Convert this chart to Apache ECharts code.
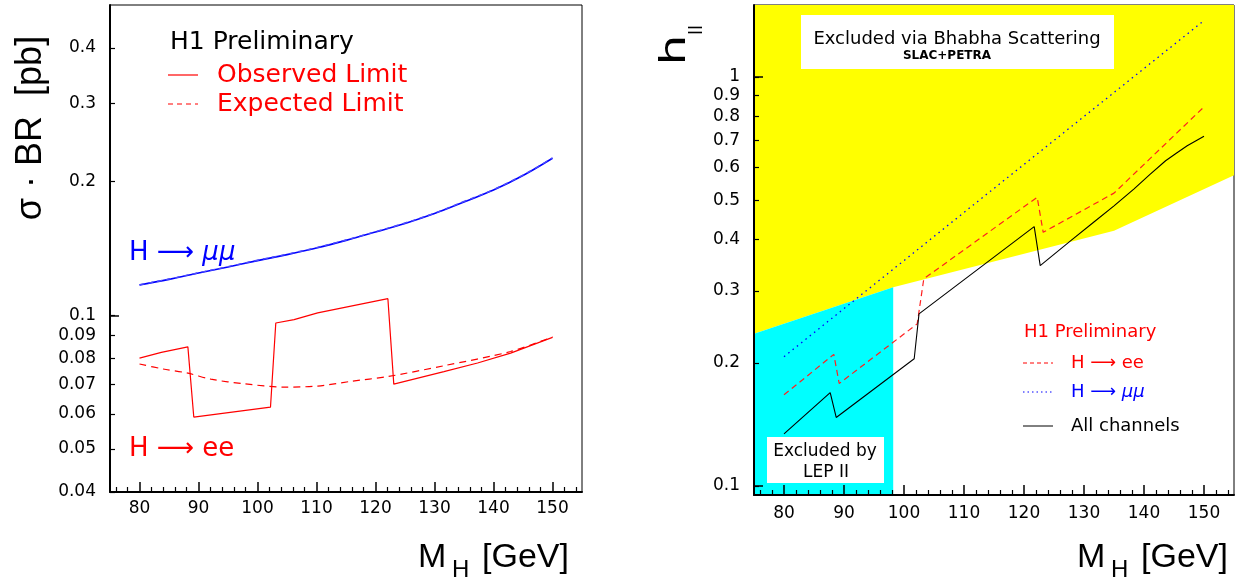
<!DOCTYPE html>
<html>
<head>
<meta charset="utf-8">
<script src="https://cdn.jsdelivr.net/npm/echarts@6/dist/echarts.min.js"></script>
<style>html,body{margin:0;padding:0;background:#fff;}#c{width:1239px;height:587px;}</style>
</head>
<body>
<div id="c"></div>
<script>
// ---------- Data ----------
// Left panel: sigma*BR limits [pb]
const muX      = [80, 85, 90, 95, 100, 105, 110, 115, 120, 125, 130, 135, 140, 145, 150];
const muObs    = [0.117, 0.1205, 0.1245, 0.1285, 0.1328, 0.137, 0.1418, 0.1475, 0.154, 0.161, 0.1695, 0.180, 0.1915, 0.2065, 0.2258];
const muExp    = [0.1172, 0.1207, 0.1247, 0.1287, 0.1331, 0.1373, 0.1421, 0.1478, 0.1543, 0.1614, 0.1699, 0.1805, 0.192, 0.207, 0.2262];
const eeObsX   = [80, 83.7, 88.2, 89.2, 102.2, 103.1, 106.2, 110.2, 122.1, 123.1, 131.6, 137.3, 142.9, 150];
const eeObsY   = [0.0801, 0.0825, 0.0849, 0.059, 0.0621, 0.0961, 0.0978, 0.1013, 0.109, 0.070, 0.0747, 0.0781, 0.0822, 0.0892];
const eeExpX   = [80, 84, 88.2, 92.1, 97.8, 104.5, 110.2, 115.8, 122.1, 131.6, 142.9, 150];
const eeExpY   = [0.0777, 0.0757, 0.0741, 0.0718, 0.0701, 0.0689, 0.0693, 0.0710, 0.0728, 0.0770, 0.0829, 0.0894];

// Right panel: coupling limits h_ll
const hEeX     = [80, 88.3, 89.2, 102.2, 103.3, 122.2, 123.2, 135, 150];
const hEeY     = [0.167, 0.2097, 0.178, 0.249, 0.321, 0.508, 0.417, 0.52, 0.845];
const hMuX     = [80, 115, 150];
const hMuY     = [0.207, 0.534, 1.374];
const hAllX    = [80, 87.7, 88.7, 101.7, 102.5, 121.7, 122.7, 127.8, 131.5, 135, 138.3, 141, 143.6, 145.5, 147.2, 150];
const hAllY    = [0.134, 0.169, 0.147, 0.2046, 0.2635, 0.4305, 0.3457, 0.398, 0.44, 0.484, 0.532, 0.578, 0.624, 0.653, 0.679, 0.716];
const bhabhaX  = [75, 98.2, 135, 155];
const bhabhaY  = [0.2355, 0.306, 0.421, 0.575];
const lepX     = [75, 98.2];
const lepY     = [0.2355, 0.306];

// Axes / ticks
const xMajor   = [80, 90, 100, 110, 120, 130, 140, 150];
const xMinor   = [76, 78, 82, 84, 86, 88, 92, 94, 96, 98, 102, 104, 106, 108, 112, 114, 116, 118, 122, 124, 126, 128, 132, 134, 136, 138, 142, 144, 146, 148, 152, 154];
const yLeftTicks  = [0.04, 0.05, 0.06, 0.07, 0.08, 0.09, 0.1, 0.2, 0.3, 0.4];
const yLeftMajor  = [0.1];
const yRightTicks = [0.1, 0.2, 0.3, 0.4, 0.5, 0.6, 0.7, 0.8, 0.9, 1];
const yRightMajor = [0.1, 1];
const xRange = [75, 155];
const yLeftRange  = [0.04, 0.5];
const yRightRange = [0.095, 1.5];

// ---------- Build ----------
const lg = Math.log10;
const pairs = (xs, ys) => xs.map((x, i) => [x, lg(ys[i])]);
const FONT = 'DejaVu Sans';
const fmt = v => String(parseFloat(Math.pow(10, v).toPrecision(2)));

function tickOnlyAxis(g, pos, mn, mx, vals, len, w) {
  return { type: 'value', gridIndex: g, position: pos, min: mn, max: mx, z: 10,
    axisLine: { show: false, onZero: false },
    axisTick: { show: true, inside: true, length: len, customValues: vals, lineStyle: { color: '#000', width: w } },
    axisLabel: { show: false }, splitLine: { show: false } };
}
function xAxes(g) {
  return [
    { type: 'value', gridIndex: g, position: 'bottom', min: xRange[0], max: xRange[1], z: 10,
      axisLine: { show: true, onZero: false, lineStyle: { color: '#000', width: 2 } },
      axisTick: { show: false },
      axisLabel: { customValues: xMajor, margin: g === 0 ? 8 : 10, fontSize: 17, color: '#000', fontFamily: FONT },
      splitLine: { show: false } },
    tickOnlyAxis(g, 'bottom', xRange[0], xRange[1], xMajor, 10, 1.5),
    tickOnlyAxis(g, 'bottom', xRange[0], xRange[1], xMinor, 5, 1.2)
  ];
}
function yAxes(g, range, ticks, major) {
  const mn = lg(range[0]), mx = lg(range[1]);
  return [
    { type: 'value', gridIndex: g, position: 'left', min: mn, max: mx, z: 10,
      axisLine: { show: true, onZero: false, lineStyle: { color: '#000', width: 2 } },
      axisTick: { show: false },
      axisLabel: { customValues: ticks.map(lg), formatter: fmt, margin: 14, fontSize: 17, color: '#000', fontFamily: FONT },
      splitLine: { show: false } },
    tickOnlyAxis(g, 'left', mn, mx, ticks.map(lg), 5, 1.2),
    tickOnlyAxis(g, 'left', mn, mx, major.map(lg), 9, 1.5)
  ];
}

const base = { type: 'line', showSymbol: false, symbol: 'none', animation: false, silent: true };
// axis indices: grid0 -> x 0..2, y 0..2 ; grid1 -> x 3..5, y 3..5
const L = { xAxisIndex: 0, yAxisIndex: 0 };
const R = { xAxisIndex: 3, yAxisIndex: 3 };

const option = {
  animation: false,
  backgroundColor: '#fff',
  grid: [
    { left: 110, top: 5, width: 472, height: 487, show: true, borderColor: '#000', borderWidth: 1, backgroundColor: 'transparent' },
    { left: 754, top: 5, width: 480, height: 490, show: true, borderColor: '#000', borderWidth: 1, backgroundColor: 'transparent' }
  ],
  xAxis: [...xAxes(0), ...xAxes(1)],
  yAxis: [...yAxes(0, yLeftRange, yLeftTicks, yLeftMajor), ...yAxes(1, yRightRange, yRightTicks, yRightMajor)],
  series: [
    // left panel
    Object.assign({}, base, L, { name: 'H→μμ observed', smooth: 0.4, data: pairs(muX, muObs), lineStyle: { color: '#0000ff', width: 1.6 } }),
    Object.assign({}, base, L, { name: 'H→μμ expected', smooth: 0.4, data: pairs(muX, muExp), lineStyle: { color: '#4a4aff', width: 1.4, type: [5, 4] } }),
    Object.assign({}, base, L, { name: 'Observed Limit', data: pairs(eeObsX, eeObsY), lineStyle: { color: '#ff0000', width: 1.2 } }),
    Object.assign({}, base, L, { name: 'Expected Limit', smooth: 0.3, data: pairs(eeExpX, eeExpY), lineStyle: { color: '#ff0000', width: 1.2, type: [7, 5] } }),
    // right panel regions
    Object.assign({}, base, R, { name: 'Excluded via Bhabha Scattering', z: 1, data: pairs(bhabhaX, bhabhaY), lineStyle: { width: 0 }, areaStyle: { color: '#ffff00', opacity: 1, origin: 'end' } }),
    Object.assign({}, base, R, { name: 'Excluded by LEP II', z: 1, data: pairs(lepX, lepY), lineStyle: { width: 0 }, areaStyle: { color: '#00ffff', opacity: 1, origin: 'start' } }),
    // right panel limits
    Object.assign({}, base, R, { name: 'H→μμ', z: 3, data: pairs(hMuX, hMuY), lineStyle: { color: '#0000ff', width: 1.3, type: [1.5, 4] } }),
    Object.assign({}, base, R, { name: 'H→ee', z: 3, data: pairs(hEeX, hEeY), lineStyle: { color: '#ff2020', width: 1.2, type: [6, 4] } }),
    Object.assign({}, base, R, { name: 'All channels', z: 3, data: pairs(hAllX, hAllY), lineStyle: { color: '#000', width: 1.1 } })
  ],
  graphic: [
    // left legend
    { type: 'text', z: 100, x: 170, y: 42, style: { text: 'H1 Preliminary', font: '25px "DejaVu Sans"', fill: '#000', verticalAlign: 'middle' } },
    { type: 'line', z: 100, shape: { x1: 168, y1: 75, x2: 198, y2: 75 }, style: { stroke: '#ff0000', lineWidth: 1.2 } },
    { type: 'text', z: 100, x: 217, y: 75, style: { text: 'Observed Limit', font: '25px "DejaVu Sans"', fill: '#ff0000', verticalAlign: 'middle' } },
    { type: 'line', z: 100, shape: { x1: 168, y1: 104, x2: 198, y2: 104 }, style: { stroke: '#ff0000', lineWidth: 1.2, lineDash: [5, 4] } },
    { type: 'text', z: 100, x: 217, y: 104, style: { text: 'Expected Limit', font: '25px "DejaVu Sans"', fill: '#ff0000', verticalAlign: 'middle' } },
    { type: 'text', z: 100, x: 129, y: 253, style: { text: '{n|H ⟶ }{i|μμ}', verticalAlign: 'middle', rich: {
        n: { fontSize: 26, fontFamily: FONT, fill: '#0000ff', color: '#0000ff' },
        i: { fontSize: 26, fontFamily: FONT, fontStyle: 'italic', fill: '#0000ff', color: '#0000ff' } } } },
    { type: 'text', z: 100, x: 129, y: 449, style: { text: 'H ⟶ ee', font: '26px "DejaVu Sans"', fill: '#ff0000', verticalAlign: 'middle' } },
    // left axis titles
    { type: 'text', z: 100, x: 31, y: 128, rotation: Math.PI / 2, style: { text: 'σ · BR  [pb]', font: '36px "Liberation Sans"', fill: '#000', align: 'center', verticalAlign: 'middle' } },
    { type: 'text', z: 100, x: 418, y: 558, style: { text: 'M', font: '34px "Liberation Sans"', fill: '#000', verticalAlign: 'middle' } },
    { type: 'text', z: 100, x: 452, y: 570, style: { text: 'H', font: '24px "Liberation Sans"', fill: '#000', verticalAlign: 'middle' } },
    { type: 'text', z: 100, x: 482, y: 558, style: { text: '[GeV]', font: '34px "Liberation Sans"', fill: '#000', verticalAlign: 'middle' } },
    // right annotations
    { type: 'rect', z: 100, shape: { x: 801, y: 15, width: 313, height: 54 }, style: { fill: '#fff' } },
    { type: 'text', z: 101, x: 957, y: 39, style: { text: 'Excluded via Bhabha Scattering', font: '18px "DejaVu Sans"', fill: '#000', align: 'center', verticalAlign: 'middle' } },
    { type: 'text', z: 101, x: 947, y: 56, style: { text: 'SLAC+PETRA', font: 'bold 12px "DejaVu Sans"', fill: '#000', align: 'center', verticalAlign: 'middle' } },
    { type: 'rect', z: 100, shape: { x: 767, y: 437, width: 117, height: 46 }, style: { fill: '#fff' } },
    { type: 'text', z: 101, x: 825, y: 452, style: { text: 'Excluded by', font: '17px "DejaVu Sans"', fill: '#000', align: 'center', verticalAlign: 'middle' } },
    { type: 'text', z: 101, x: 826, y: 473, style: { text: 'LEP II', font: '17px "DejaVu Sans"', fill: '#000', align: 'center', verticalAlign: 'middle' } },
    // right legend
    { type: 'text', z: 100, x: 1024, y: 332, style: { text: 'H1 Preliminary', font: '18px "DejaVu Sans"', fill: '#ff0000', verticalAlign: 'middle' } },
    { type: 'line', z: 100, shape: { x1: 1023, y1: 363, x2: 1053, y2: 363 }, style: { stroke: '#ff0000', lineWidth: 1, lineDash: [4, 3] } },
    { type: 'text', z: 100, x: 1071, y: 363, style: { text: 'H ⟶ ee', font: '18px "DejaVu Sans"', fill: '#ff0000', verticalAlign: 'middle' } },
    { type: 'line', z: 100, shape: { x1: 1023, y1: 392, x2: 1053, y2: 392 }, style: { stroke: '#0000ff', lineWidth: 1, lineDash: [1.5, 3] } },
    { type: 'text', z: 100, x: 1071, y: 392, style: { text: '{n|H ⟶ }{i|μμ}', verticalAlign: 'middle', rich: {
        n: { fontSize: 18, fontFamily: FONT, fill: '#0000ff', color: '#0000ff' },
        i: { fontSize: 18, fontFamily: FONT, fontStyle: 'italic', fill: '#0000ff', color: '#0000ff' } } } },
    { type: 'line', z: 100, shape: { x1: 1023, y1: 426, x2: 1053, y2: 426 }, style: { stroke: '#000', lineWidth: 1 } },
    { type: 'text', z: 100, x: 1071, y: 426, style: { text: 'All channels', font: '18px "DejaVu Sans"', fill: '#000', verticalAlign: 'middle' } },
    // right axis titles
    { type: 'text', z: 100, x: 676, y: 50, rotation: Math.PI / 2, scaleX: 1.35, style: { text: 'h', font: '36px "DejaVu Sans"', fill: '#000', align: 'center', verticalAlign: 'middle' } },
    { type: 'text', z: 100, x: 697, y: 30, rotation: Math.PI / 2, style: { text: 'll', font: '18px "DejaVu Sans"', fill: '#000', align: 'center', verticalAlign: 'middle' } },
    { type: 'text', z: 100, x: 1077, y: 558, style: { text: 'M', font: '34px "Liberation Sans"', fill: '#000', verticalAlign: 'middle' } },
    { type: 'text', z: 100, x: 1111, y: 570, style: { text: 'H', font: '24px "Liberation Sans"', fill: '#000', verticalAlign: 'middle' } },
    { type: 'text', z: 100, x: 1141, y: 558, style: { text: '[GeV]', font: '34px "Liberation Sans"', fill: '#000', verticalAlign: 'middle' } }
  ]
};

const chart = echarts.init(document.getElementById('c'), null, { renderer: 'canvas' });
chart.setOption(option);
</script>
</body>
</html>
